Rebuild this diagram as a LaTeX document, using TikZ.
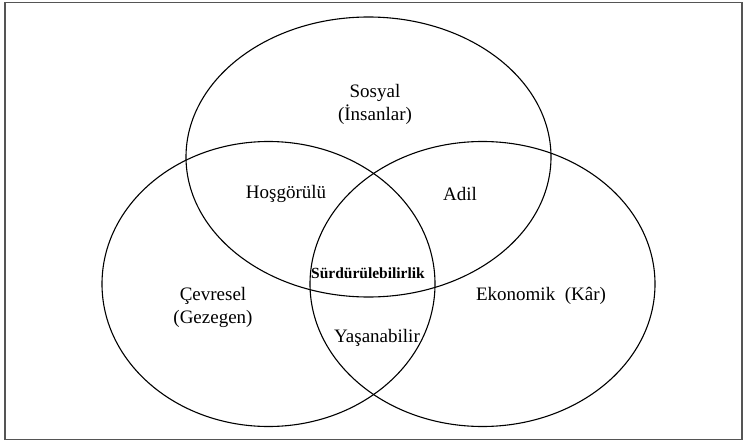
\documentclass[tikz,border=0pt]{standalone}
\usepackage{fontspec}
\setmainfont{Liberation Serif}
\usetikzlibrary{positioning}
\tikzset{every node/.append style={align=center}}
\definecolor{framegray}{RGB}{85,85,85}

\begin{document}
\begin{tikzpicture}[x=1pt, y=-1pt,
    lbl/.style={font=\fontsize{19}{23}\selectfont, inner sep=1pt},
    core/.style={font=\bfseries\fontsize{15.5}{18}\selectfont, inner sep=1pt},
    ring/.style={line width=1.1pt}]
    \useasboundingbox (0,0) rectangle (745,442);

    % Frame
    \draw[framegray, line width=1.6pt] (5,2.5) rectangle (742,439.5);

    % Circles
    \coordinate (sosyal) at (368.5,157);
    \coordinate (cevre) at (268.5,284);
    \coordinate (ekonomi) at (482.5,284);
    \draw[ring] (sosyal) ellipse [x radius=182.5, y radius=140];
    \draw[ring] (cevre) ellipse [x radius=166.5, y radius=142.5];
    \draw[ring] (ekonomi) ellipse [x radius=172.5, y radius=142.5];

    % Labels
    \node[lbl] (sosyalT) at (375,104) {Sosyal\\(İnsanlar)};
    \node[lbl] (cevreT) at (213,307) {Çevresel\\(Gezegen)};
    \node[lbl] (ekonomiT) at (541,296) {Ekonomik~ (Kâr)};

    % Overlaps
    \node[lbl] (hosgoru) at (286,194) {Hoşgörülü};
    \node[lbl] (adil) at (460,194) {Adil};
    \node[lbl] (yasam) at (377,338) {Yaşanabilir};
    \node[core] (surdur) at (368,273) {Sürdürülebilirlik};
\end{tikzpicture}
\end{document}
